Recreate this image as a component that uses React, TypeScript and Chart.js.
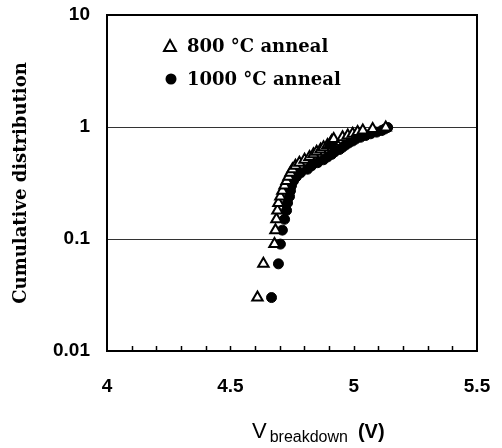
import React, { useEffect, useRef } from 'react';
import { Chart, registerables } from 'chart.js';

Chart.register(...registerables);

// Cumulative distribution levels (shared by both series)
const CUM = [
  0.03, 0.06, 0.09, 0.12, 0.15, 0.18, 0.21, 0.24, 0.27, 0.3, 0.33,
  0.36, 0.39, 0.42, 0.45, 0.48, 0.51, 0.54, 0.57, 0.6, 0.63, 0.66,
  0.69, 0.72, 0.75, 0.78, 0.81, 0.84, 0.87, 0.9, 0.93, 0.96, 0.99,
];

// Breakdown voltage (V), 800 °C anneal
const V_800 = [
  4.61, 4.634, 4.679, 4.683, 4.687, 4.691, 4.695, 4.703, 4.711, 4.72, 4.728,
  4.736, 4.744, 4.752, 4.764, 4.78, 4.801, 4.821, 4.837, 4.85, 4.866, 4.878,
  4.894, 4.907, 4.911, 4.919, 4.955, 4.976, 4.996, 5.016, 5.037, 5.077, 5.13,
];

// Breakdown voltage (V), 1000 °C anneal
const V_1000 = [
  4.667, 4.695, 4.703, 4.711, 4.72, 4.728, 4.732, 4.74, 4.744, 4.748, 4.756,
  4.768, 4.785, 4.813, 4.829, 4.854, 4.878, 4.894, 4.911, 4.923, 4.943, 4.955,
  4.967, 4.98, 4.996, 5.008, 5.028, 5.049, 5.069, 5.093, 5.114, 5.126, 5.138,
];

const Y_TICKS = [0.01, 0.1, 1, 10];
const Y_GRID = [0.1, 1];
const X_TICKS = [4, 4.5, 5, 5.5];
const X_MIN = 4;
const X_MAX = 5.5;
const X_MINOR_STEP = 0.1;
const LABELS = ['800 °C anneal', '1000 °C anneal'];
const Y_TITLE = 'Cumulative distribution';
const X_TITLE = ['V', 'breakdown', '(V)'];

const framePlugin = {
  id: 'framePlugin',
  afterDraw(chart: any) {
    const { ctx, chartArea } = chart;
    const { left, top, right, bottom } = chartArea;
    const xs = chart.scales.x;
    ctx.save();
    // box
    ctx.strokeStyle = '#000';
    ctx.lineWidth = 2;
    ctx.strokeRect(left, top, right - left, bottom - top);
    // inward minor ticks on bottom axis
    ctx.lineWidth = 1.5;
    const n = Math.round((X_MAX - X_MIN) / X_MINOR_STEP);
    for (let i = 1; i < n; i++) {
      const v = X_MIN + i * X_MINOR_STEP;
      const px = Math.round(xs.getPixelForValue(v)) + 0.5;
      ctx.beginPath();
      ctx.moveTo(px, bottom);
      ctx.lineTo(px, bottom - 5);
      ctx.stroke();
    }

    // legend
    const ds = chart.data.datasets;
    ctx.font = 'bold 18px "DejaVu Serif"';
    ctx.textBaseline = 'middle';
    ctx.textAlign = 'left';
    // triangle
    const tx = 170, ty = 46;
    ctx.beginPath();
    ctx.moveTo(tx, ty - 6);
    ctx.lineTo(tx + 6, ty + 5);
    ctx.lineTo(tx - 6, ty + 5);
    ctx.closePath();
    ctx.lineWidth = 2;
    ctx.strokeStyle = '#000';
    ctx.fillStyle = '#fff';
    ctx.fill();
    ctx.stroke();
    ctx.fillStyle = '#000';
    ctx.fillText(ds[0].label, 187, ty + 1);
    // circle
    const cx = 171, cy = 79;
    ctx.beginPath();
    ctx.arc(cx, cy, 5.5, 0, Math.PI * 2);
    ctx.fill();
    ctx.fillText(ds[1].label, 187, cy + 1);

    // x title with subscript
    ctx.textBaseline = 'alphabetic';
    const x0 = 252;
    ctx.font = '22px "Liberation Sans"';
    ctx.fillText(X_TITLE[0], x0, 438);
    const w = ctx.measureText(X_TITLE[0]).width;
    ctx.font = '16px "Liberation Sans"';
    ctx.fillText(X_TITLE[1], x0 + w + 3, 442);
    const w2 = ctx.measureText(X_TITLE[1]).width;
    ctx.font = 'bold 20px "Liberation Sans"';
    ctx.fillText(X_TITLE[2], x0 + w + 3 + w2 + 10, 438);
    ctx.restore();
  },
};

export default function App() {
  const ref = useRef<HTMLCanvasElement | null>(null);

  useEffect(() => {
    const canvas = ref.current;
    if (!canvas) return;
    const tickFont = { family: '"Liberation Sans"', weight: 'bold' as const, size: 19 };
    const chart = new Chart(canvas, {
      type: 'scatter',
      data: {
        datasets: [
          {
            label: LABELS[0],
            data: V_800.map((v, i) => ({ x: v, y: CUM[i] })),
            pointStyle: 'triangle',
            pointRadius: 6,
            backgroundColor: '#fff',
            borderColor: '#000',
            borderWidth: 2,
          },
          {
            label: LABELS[1],
            data: V_1000.map((v, i) => ({ x: v, y: CUM[i] })),
            pointStyle: 'circle',
            pointRadius: 5,
            backgroundColor: '#000',
            borderColor: '#000',
            borderWidth: 1,
          },
        ],
      },
      options: {
        responsive: false,
        animation: false,
        devicePixelRatio: 1,
        layout: { padding: { top: 15, right: 25, left: 0, bottom: 0 } },
        plugins: {
          legend: { display: false },
          tooltip: { enabled: false },
        },
        scales: {
          x: {
            type: 'linear',
            min: X_MIN,
            max: X_MAX,
            afterFit: (s: any) => {
              s.height = 97;
              s.paddingLeft = 0;
              s.paddingRight = 0;
            },
            afterBuildTicks: (s: any) => {
              s.ticks = X_TICKS.map((v) => ({ value: v }));
            },
            grid: { display: false, drawTicks: false },
            border: { display: false },
            ticks: {
              padding: 24,
              color: '#000',
              font: tickFont,
              maxRotation: 0,
              autoSkip: false,
              callback: (v: any) => String(v),
            },
          },
          y: {
            type: 'logarithmic',
            min: 0.01,
            max: 10,
            afterFit: (s: any) => {
              s.width = 107;
              s.paddingTop = 0;
              s.paddingBottom = 0;
            },
            afterBuildTicks: (s: any) => {
              s.ticks = Y_TICKS.map((v) => ({ value: v }));
            },
            grid: {
              drawTicks: false,
              color: (c: any) =>
                c.tick && Y_GRID.includes(c.tick.value) ? '#333' : 'rgba(0,0,0,0)',
              lineWidth: 1,
            },
            border: { display: false },
            title: {
              display: true,
              text: Y_TITLE,
              color: '#000',
              font: { family: '"DejaVu Serif"', weight: 'bold', size: 18 },
              padding: { top: 11, bottom: 0 },
            },
            ticks: {
              padding: 17,
              color: '#000',
              font: tickFont,
              autoSkip: false,
              callback: (v: any) => String(v),
            },
          },
        },
      },
      plugins: [framePlugin],
    });
    return () => chart.destroy();
  }, []);

  return (
    <div style={{ position: 'absolute', left: 0, top: 0, width: 502, height: 448, background: '#fff' }}>
      <canvas ref={ref} width={502} height={448} style={{ display: 'block' }} />
    </div>
  );
}
